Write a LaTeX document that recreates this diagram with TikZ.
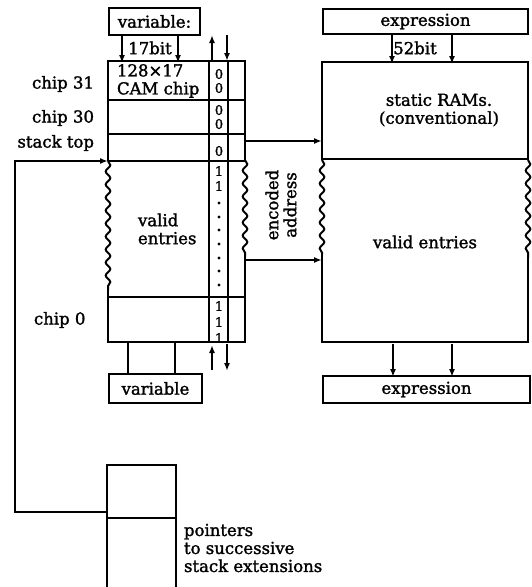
\documentclass[tikz,border=0pt]{standalone}
\usepackage{fontspec}
\setmainfont{DejaVu Serif}[BoldFont={DejaVu Serif}, BoldFeatures={FakeBold=1.6}]
\usetikzlibrary{arrows.meta,decorations.pathmorphing}
\begin{document}
\begin{tikzpicture}[x=1pt,y=-1pt,
  line width=2pt,
  every node/.style={font=\fontsize{16.5}{18}\selectfont\bfseries, inner sep=0pt},
  box/.style={draw, rectangle, inner sep=0pt, anchor=north west},
  ghost/.style={rectangle, inner sep=0pt, anchor=north west},
  arr/.style={-{Latex[length=8pt,width=6pt]}},
  wavy/.style={decorate, decoration={snake, amplitude=2.3pt, segment length=13pt}},
  digit/.style={font=\fontsize{13}{13}\selectfont\bfseries},
  dotmark/.style={circle, fill, inner sep=0pt, minimum size=3.2pt}
]
\useasboundingbox (0,0) rectangle (532,587);

% ---------- boxes ----------
\node[box, minimum width=91pt, minimum height=27pt] (var1) at (108,7) {variable:};
\node[box, minimum width=93pt, minimum height=29pt] (var2) at (108,373) {variable};
\node[box, minimum width=205pt, minimum height=25pt] (exp1) at (322,8) {expression};
\node[box, minimum width=207pt, minimum height=27pt] (exp2) at (322,375) {expression};
\node[ghost, minimum width=137pt, minimum height=281pt] (cam) at (108,61) {};
\node[ghost, minimum width=206pt, minimum height=280pt] (ram) at (322,62) {};

% ---------- CAM outline ----------
\draw (108,161) -- (108,61) -- (245,61) -- (245,160);
\draw[wavy] (108,161) -- (108,290);
\draw (108,290) -- (108,342) -- (245,342) -- (245,257);
\draw[wavy] (245,160) -- (245,257);
\foreach \yy in {100,134,161,297} \draw (108,\yy) -- (245,\yy);
\draw (209,61) -- (209,342);
\draw (228,61) -- (228,342);

% column arrows
\draw[arr] (cam.north west) ++(104,0) -- ++(0,-26);
\draw[arr] (cam.north west) ++(119,-26) -- ++(0,26);
\draw[arr] (cam.south west) ++(104,26) -- ++(0,-25);
\draw[arr] (cam.south west) ++(119,0) -- ++(0,27);

% digits
\foreach \yy/\dd in {74/0,88/0,110/0,124/0,151/0,171/1,186/1,306/1,322/1,338/1}
  \node[digit] at (219,\yy) {\dd};
\foreach \yy in {203,217,230,244,258,271,285}
  \node[dotmark] at (219,\yy) {};

% variable arrows / legs
\draw[arr] (var1.south west) ++(14,0) -- ++(0,27);
\draw[arr] (var1.south west) ++(70,0) -- ++(0,27);
\node at (150,48) {17bit};
\draw (var2.north west) ++(20,0) -- ++(0,-31);
\draw (var2.north west) ++(67,0) -- ++(0,-31);

% CAM texts
\node[align=left, anchor=west] at (116,81) {128×17\\CAM chip};
\node[align=left, anchor=west] at (137,229) {valid\\entries};

% labels
\node[anchor=east] at (95,84) {chip 31};
\node[anchor=east] at (95,118) {chip 30};
\node[anchor=east] at (95,143) {stack top};
\node[anchor=west] at (33,320) {chip 0};

% ---------- RAM outline ----------
\draw (322,160) -- (322,62) -- (528,62) -- (528,160);
\draw[wavy] (322,160) -- (322,255);
\draw[wavy] (528,160) -- (528,258);
\draw (322,255) -- (322,342) -- (528,342) -- (528,258);
\draw (322,159) -- (528,159);
\node[align=center] at (439,110) {static RAMs.\\(conventional)};
\node at (425,242) {valid entries};

\draw[arr] (exp1.south west) ++(70,0) -- ++(0,29);
\draw[arr] (exp1.south west) ++(130,0) -- ++(0,29);
\node at (415,48) {52bit};
\draw[arr] (ram.south west) ++(71,0) -- ++(0,33);
\draw[arr] (ram.south west) ++(130,0) -- ++(0,33);

% encoded address
\coordinate (ea1) at (245,141);
\coordinate (eb1) at (322,141);
\coordinate (ea2) at (245,260);
\coordinate (eb2) at (322,260);
\draw[arr] (ea1) -- (eb1);
\draw[arr] (ea2) -- (eb2);
\node[align=center, rotate=90] at (281,205) {encoded\\address};

% ---------- stack pointers ----------
\node[ghost, minimum width=69pt, minimum height=122pt] (ptr) at (107,465) {};
\draw (107,587) -- (107,465) -- (176,465) -- (176,587);
\draw (107,518) -- (176,518);
\coordinate (ptrout) at (107,512);
\coordinate (stacktop) at (108,161);
\draw[arr] (ptrout) -| (15,340) |- (stacktop);
\node[align=left, anchor=west] at (183,548) {pointers\\to successive\\stack extensions};
\end{tikzpicture}
\end{document}
